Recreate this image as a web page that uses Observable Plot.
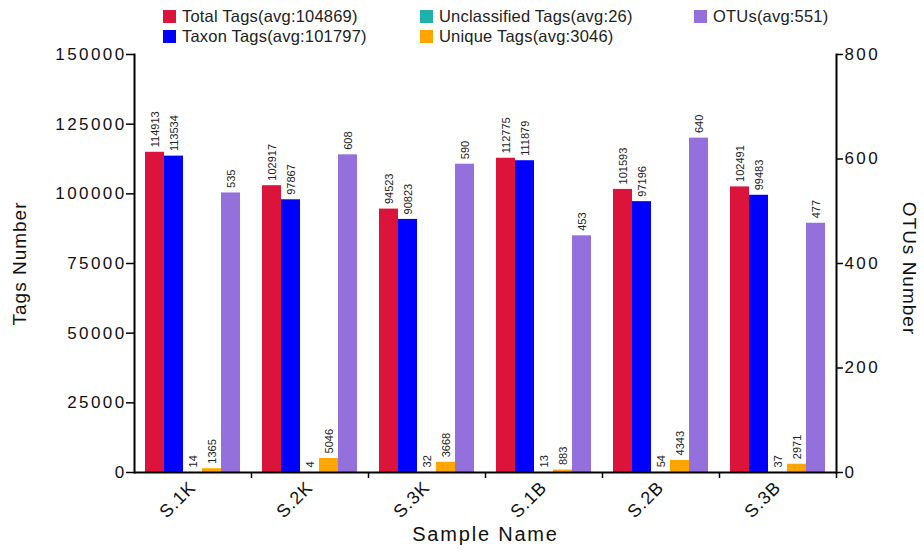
<!DOCTYPE html>
<html>
<head>
<meta charset="utf-8">
<script src="https://cdn.jsdelivr.net/npm/d3@7"></script>
<script src="https://cdn.jsdelivr.net/npm/@observablehq/plot@0.6"></script>
<style>
  body { margin: 0; background: #fff; font-family: "Liberation Sans", Arial, sans-serif; }
  #legend { position: relative; width: 924px; height: 44px; font-size: 16.5px; color: #222; letter-spacing: 0.2px; }
  .item { position: absolute; display: flex; align-items: center; white-space: nowrap; }
  .sw { width: 13px; height: 13px; margin-right: 6px; }
  g[aria-label="y-axis tick label"] text { letter-spacing: 2.4px; }
  g[aria-label="fx-axis tick label"] text { letter-spacing: 1px; }
  g[aria-label="fx-axis label"] text { letter-spacing: 1.8px; }
  .title text { letter-spacing: 1px; }
</style>
</head>
<body>
<div id="legend"></div>
<div id="chart"></div>
<script>
const samples = ["S.1K", "S.2K", "S.3K", "S.1B", "S.2B", "S.3B"];
const totalTags = [114913, 102917, 94523, 112775, 101593, 102491];
const taxonTags = [113534, 97867, 90823, 111879, 97196, 99483];
const unclassifiedTags = [14, 4, 32, 13, 54, 37];
const uniqueTags = [1365, 5046, 3668, 883, 4343, 2971];
const otus = [535, 608, 590, 453, 640, 477];
const seriesNames = ["Total Tags", "Taxon Tags", "Unclassified Tags", "Unique Tags", "OTUs"];
const seriesColors = ["#DC143C", "#0000FF", "#20B2AA", "#FFA500", "#9370DB"];
const legendLabels = ["Total Tags(avg:104869)", "Taxon Tags(avg:101797)", "Unclassified Tags(avg:26)", "Unique Tags(avg:3046)", "OTUs(avg:551)"];
const leftTicks = [0, 25000, 50000, 75000, 100000, 125000, 150000];
const rightTicks = [0, 200, 400, 600, 800];
const leftMax = 150000, rightMax = 800;
const ratio = leftMax / rightMax;

const seriesValues = [totalTags, taxonTags, unclassifiedTags, uniqueTags, otus];
const rows = samples.flatMap((s, i) => seriesNames.map((name, k) => ({
  sample: s,
  series: name,
  value: seriesValues[k][i],
  y: name === "OTUs" ? seriesValues[k][i] * ratio : seriesValues[k][i]
})));

// legend
const legendPos = [[163, 7], [163, 27], [420, 7], [420, 27], [694, 7]];
const legend = document.getElementById("legend");
legendLabels.forEach((lab, k) => {
  const d = document.createElement("div");
  d.className = "item";
  d.style.left = legendPos[k][0] + "px";
  d.style.top = legendPos[k][1] + "px";
  d.innerHTML = `<span class="sw" style="background:${seriesColors[k]}"></span><span>${lab}</span>`;
  legend.appendChild(d);
});

const fs = 17;
const chart = Plot.plot({
  width: 924,
  height: 506,
  marginLeft: 134,
  marginRight: 88,
  marginTop: 10,
  marginBottom: 78,
  style: { fontFamily: "Liberation Sans, Arial, sans-serif", color: "#111", background: "#fff" },
  fx: { domain: samples, padding: 0, axis: null },
  x: { domain: seriesNames, paddingInner: 0, paddingOuter: 0.45, axis: null },
  y: { domain: [0, leftMax], axis: null },
  color: { domain: seriesNames, range: seriesColors },
  marks: [
    Plot.barY(rows, { fx: "sample", x: "series", y: "y", fill: "series" }),
    Plot.text(rows, {
      fx: "sample", x: "series", y: "y", text: d => String(d.value),
      rotate: -90, textAnchor: "start", dy: -5, fontSize: 11, fill: "#222"
    }),
    Plot.ruleY([0], { stroke: "#000", strokeWidth: 2 }),
    Plot.frame({ anchor: "left", facetAnchor: "left", stroke: "#000", strokeWidth: 2 }),
    Plot.frame({ anchor: "right", facetAnchor: "right", stroke: "#000", strokeWidth: 2 }),
    Plot.axisY({
      anchor: "left", ticks: leftTicks, tickFormat: d => String(d), tickSize: 8, tickPadding: 0,
      fontSize: fs, stroke: "#000", strokeWidth: 1.5, label: null
    }),
    Plot.axisY({
      anchor: "right", ticks: rightTicks.map(t => t * ratio), tickFormat: d => String(Math.round(d / ratio)),
      tickSize: 6, tickPadding: 2, fontSize: fs, stroke: "#000", strokeWidth: 1.5, label: null
    }),
    Plot.text(["Tags Number"], {
      frameAnchor: "left", facetAnchor: "left", rotate: -90, dx: -115, textAnchor: "middle",
      fontSize: 19, fill: "#111", className: "title"
    }),
    Plot.text(["OTUs Number"], {
      frameAnchor: "right", facetAnchor: "right", rotate: 90, dx: 73, dy: 5, textAnchor: "middle",
      fontSize: 19, fill: "#111", className: "title"
    }),
    Plot.axisFx({ anchor: "bottom", tickSize: 6, tickFormat: () => "", dx: 58.5, stroke: "#000", strokeWidth: 1.5, label: null }),
    Plot.axisFx({
      anchor: "bottom", tickSize: 0, tickRotate: -45, tickPadding: 12, fontSize: 18, label: null
    }),
    Plot.axisFx({
      anchor: "bottom", tickSize: 0, tickFormat: () => "", fontSize: 20,
      label: "Sample Name", labelAnchor: "center", labelOffset: 68, labelArrow: "none"
    })
  ]
});
document.getElementById("chart").appendChild(chart);
</script>
</body>
</html>
